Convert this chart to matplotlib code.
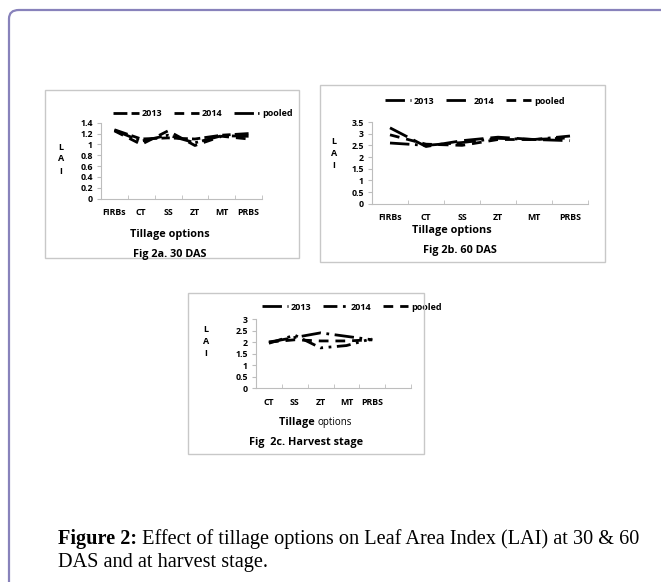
import matplotlib
matplotlib.use("Agg")
import matplotlib.pyplot as plt
from matplotlib.patches import FancyBboxPatch, Rectangle

W, H = 661, 582

# ─── Data ─────────────────────────────────────────────────────────────────────

cats_ab = ["FIRBs", "CT", "SS", "ZT", "MT", "PRBS"]
cats_c = ["CT", "SS", "ZT", "MT", "PRBS", ""]
series_names = ["2013", "2014", "pooled"]

lai_30_2013 = [1.27, 1.10, 1.12, 1.10, 1.17, 1.20]
lai_30_2014 = [1.25, 1.00, 1.25, 0.98, 1.15, 1.10]
lai_30_pooled = [1.26, 1.06, 1.17, 1.03, 1.16, 1.15]

lai_60_2013 = [2.60, 2.50, 2.62, 2.80, 2.75, 2.90]
lai_60_2014 = [3.25, 2.45, 2.70, 2.85, 2.75, 2.70]
lai_60_pooled = [2.95, 2.55, 2.50, 2.75, 2.75, 2.82]

lai_h_2013 = [2.00, 2.20, 2.40, 2.25, 2.10]
lai_h_2014 = [1.95, 2.30, 1.75, 1.85, 2.15]
lai_h_pooled = [2.00, 2.10, 2.05, 2.05, 2.10]

FONT = ["Open Sans", "DejaVu Sans"]
LINE_GRAY = "#bdbdbd"


def px_rect(x0, y0, x1, y1):
    """Pixel box (top-left origin) -> figure fraction rect."""
    return [x0 / W, 1 - y1 / H, (x1 - x0) / W, (y1 - y0) / H]


def frame(fig, x0, y0, x1, y1):
    fig.patches.append(Rectangle((x0 / W, 1 - y1 / H), (x1 - x0) / W, (y1 - y0) / H,
                                 transform=fig.transFigure, fill=False,
                                 edgecolor="#c8c8c8", linewidth=1.0))


def panel(fig, axbox, cats, ys, styles, ymax, ystep, yfmt, lai_xy, leg_xy,
          title_xy, title, xlab_xy, options_bold=True):
    ax = fig.add_axes(px_rect(*axbox))
    n = len(cats)
    for vals, ls, name in zip(ys, styles, series_names):
        ax.plot(range(len(vals)), vals, color="black", linewidth=2.0,
                linestyle=ls, label=name, solid_capstyle="butt", dash_capstyle="butt")
    ax.set_xlim(-0.5, n - 0.5)
    ax.set_ylim(0, ymax)
    yt = [i * ystep for i in range(int(round(ymax / ystep)) + 1)]
    ax.set_yticks(yt)
    ax.set_yticklabels([yfmt(v) for v in yt], fontsize=6.3, fontweight="bold", family=FONT)
    ax.set_xticks(range(n))
    ax.set_xticklabels(cats, fontsize=6.3, fontweight="bold", family=FONT)
    ax.set_xticks([i - 0.5 for i in range(n + 1)], minor=True)
    ax.tick_params(axis="x", which="major", length=0, pad=7)
    ax.tick_params(axis="x", which="minor", length=3, color=LINE_GRAY, direction="in")
    ax.tick_params(axis="y", length=3, color=LINE_GRAY, pad=3, direction="out")
    for s in ["top", "right"]:
        ax.spines[s].set_visible(False)
    for s in ["left", "bottom"]:
        ax.spines[s].set_color(LINE_GRAY)
        ax.spines[s].set_linewidth(0.8)
    ax.set_facecolor("none")

    # vertical L A I label
    lx, ly = lai_xy
    for i, ch in enumerate("LAI"):
        fig.text(lx / W, 1 - (ly + i * 12) / H, ch, fontsize=6.5, fontweight="bold",
                 family=FONT, ha="center", va="center")

    ax.legend(loc="center", bbox_to_anchor=(leg_xy[0] / W, 1 - leg_xy[1] / H),
              bbox_transform=fig.transFigure, ncol=3, frameon=False,
              prop={"family": FONT, "size": 6.5, "weight": "bold"},
              handlelength=2.8, handletextpad=0.3, columnspacing=1.3,
              borderpad=0)

    # axis title
    if options_bold:
        fig.text(xlab_xy[0] / W, 1 - xlab_xy[1] / H, "Tillage options", fontsize=7.8,
                 fontweight="bold", family=FONT, ha="center", va="center")
    else:
        fig.text(xlab_xy[0] / W, 1 - xlab_xy[1] / H, "Tillage ", fontsize=7.8,
                 fontweight="bold", family=FONT, ha="right", va="center")
        fig.text(xlab_xy[0] / W, 1 - xlab_xy[1] / H, "options", fontsize=7,
                 family=FONT, ha="left", va="center")
    fig.text(title_xy[0] / W, 1 - title_xy[1] / H, title, fontsize=7.8,
             fontweight="bold", family=FONT, ha="center", va="center")
    return ax


fig = plt.figure(figsize=(W / 100, H / 100), dpi=100)
fig.patch.set_facecolor("white")

# outer page border (only top and left visible)
fig.patches.append(FancyBboxPatch((9 / W, 1 - 620 / H), 700 / W, 610 / H,
                                  boxstyle="round,pad=0,rounding_size=0.015",
                                  transform=fig.transFigure, fill=False,
                                  edgecolor="#8882bb", linewidth=1.6))

# panel frames
frame(fig, 45, 90, 299, 258)
frame(fig, 320, 85, 605, 262)
frame(fig, 188, 293, 424, 454)

panel(fig, (101, 122.7, 262, 198.7), cats_ab,
      [lai_30_2013, lai_30_2014, lai_30_pooled],
      [(0, (5, 1.5, 3, 1.5)), (0, (3.5, 2.5)), (0, (7, 1.5, 1, 1.5))],
      1.4, 0.2, lambda v: "0" if v == 0 else ("1" if abs(v - 1) < 1e-9 else f"{v:.1f}"),
      (61, 147), (203, 114), (170, 254), "Fig 2a. 30 DAS", (170, 234))

panel(fig, (372, 122, 588, 203.7), cats_ab,
      [lai_60_2013, lai_60_2014, lai_60_pooled],
      [(0, (7, 2, 1, 2)), (0, (7, 2.5)), (0, (3.5, 2.5))],
      3.5, 0.5, lambda v: f"{v:g}",
      (334, 142), (475, 101), (460, 250), "Fig 2b. 60 DAS", (452, 231))

panel(fig, (256, 319, 411, 388.3), cats_c,
      [lai_h_2013, lai_h_2014, lai_h_pooled],
      [(0, (7, 2, 1, 2)), (0, (5, 2, 1, 2, 1, 2)), (0, (3.5, 2.5))],
      3, 0.5, lambda v: f"{v:g}",
      (206, 329), (352, 307), (306, 443), "Fig  2c. Harvest stage", (318, 423),
      options_bold=False)

# caption
fig.canvas.draw()
r = fig.canvas.get_renderer()
b = fig.text(58 / W, 1 - 544 / H, "Figure 2:", fontsize=14.6, fontweight="bold",
             family="Liberation Serif", va="baseline")
bw = b.get_window_extent(renderer=r).width
fig.text((58 + bw) / W, 1 - 544 / H,
         " Effect of tillage options on Leaf Area Index (LAI) at 30 & 60",
         fontsize=14.6, family="Liberation Serif", va="baseline")
fig.text(58 / W, 1 - 567 / H, "DAS and at harvest stage.", fontsize=14.6,
         family="Liberation Serif", va="baseline")

fig.savefig("out.png", dpi=100)
